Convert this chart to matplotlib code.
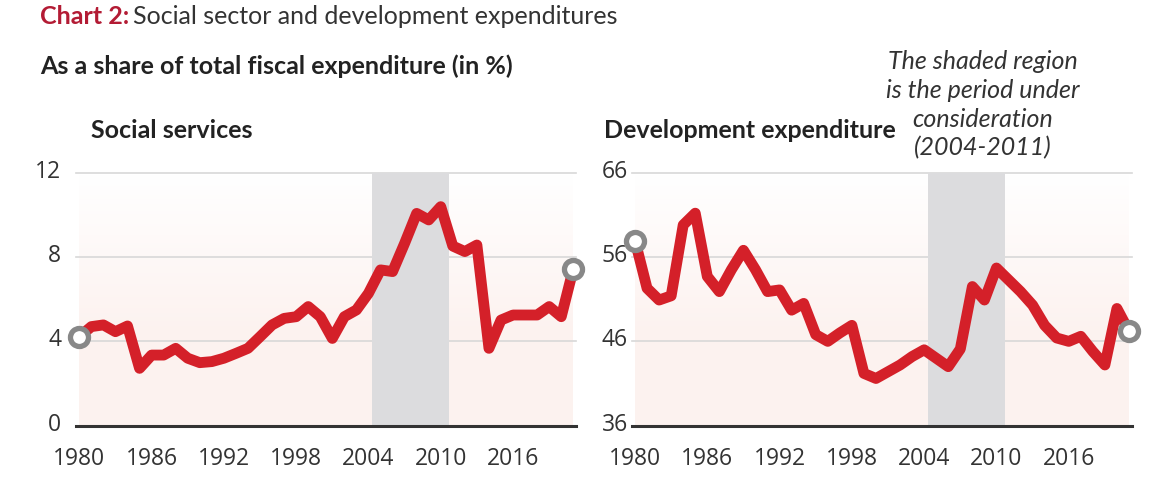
import numpy as np
import matplotlib
matplotlib.use("Agg")
import matplotlib.pyplot as plt
from matplotlib.transforms import ScaledTranslation

# data (share of total fiscal expenditure, %)
years = list(range(1980, 2022))
social = [4.22, 4.70, 4.78, 4.46, 4.73, 2.72, 3.35, 3.35, 3.67, 3.20,
          2.99, 3.04, 3.20, 3.43, 3.67, 4.22, 4.78, 5.09, 5.17, 5.65,
          5.17, 4.14, 5.17, 5.49, 6.28, 7.39, 7.31, 8.65, 10.07, 9.76,
          10.39, 8.52, 8.26, 8.57, 3.67, 5.01, 5.25, 5.25, 5.25, 5.65,
          5.17, 7.43]
development = [57.95, 52.3, 50.9, 51.4, 59.8, 61.2, 53.7, 51.9, 54.5, 56.8,
               54.5, 51.9, 52.1, 49.7, 50.5, 46.8, 46.0, 47.0, 47.9, 42.2,
               41.6, 42.4, 43.2, 44.2, 45.0, 44.0, 43.0, 45.1, 52.5, 50.9,
               54.7, 53.3, 51.9, 50.3, 47.9, 46.4, 46.0, 46.6, 44.8, 43.2,
               49.9, 47.2]
xticks = [1980, 1986, 1992, 1998, 2004, 2010, 2016]
social_yticks = [0, 4, 8, 12]
dev_yticks = [36, 46, 56, 66]
shade_period = (2004.3, 2010.7)

plt.rcParams['font.family'] = ['Open Sans', 'DejaVu Sans']

RED = '#d42029'
GREY_DOT = '#888888'
TXT = '#333333'

W, H = 1150, 484
fig = plt.figure(figsize=(W / 100, H / 100), dpi=100)
fig.patch.set_facecolor('white')


def px(x, y):
    return x / W, 1 - y / H


def panel(left, values, yticks, ypad):
    ax = fig.add_axes([left / W, (H - 425.7) / H, 500 / W, 253 / H])
    ax.set_xlim(1979.75, 2021.25)
    ax.set_ylim(yticks[0], yticks[-1])
    ax.set_facecolor('white')
    for s in ax.spines.values():
        s.set_visible(False)

    # faint pink wash, white at the top and pinker toward the baseline
    g = np.linspace(0, 1, 256).reshape(-1, 1)   # 0 at top row, 1 at bottom
    rgba = np.zeros((256, 1, 4))
    rgba[..., 0] = 0.98
    rgba[..., 1] = 0.87
    rgba[..., 2] = 0.84
    rgba[..., 3] = 0.38 * np.clip(g * 1.6, 0, 1)
    ax.imshow(rgba, extent=[years[0], years[-1], yticks[0], yticks[-1]],
              origin='upper', aspect='auto', zorder=0, interpolation='bilinear')

    for t in yticks[1:]:
        ax.axhline(t, color='#d8d8d8', lw=1.2, zorder=1, clip_on=False)
    ax.axhline(yticks[0], color='#333333', lw=2.2, zorder=5, clip_on=False)

    ax.axvspan(*shade_period, color='#dcdcde', lw=0, zorder=2)

    ax.plot(years, values, color=RED, lw=7.8, zorder=3,
            solid_joinstyle='round', solid_capstyle='round')
    ax.plot([years[0], years[-1]], [values[0], values[-1]], 'o', ms=13,
            mfc='white', mec=GREY_DOT, mew=3.8, zorder=4, clip_on=False)

    ax.set_xticks(xticks)
    ax.set_yticks(yticks)
    ax.tick_params(length=0, labelsize=16.5, labelcolor=TXT)
    ax.tick_params(axis='y', pad=ypad)
    ax.tick_params(axis='x', pad=15)
    for lab in ax.get_yticklabels():
        lab.set_transform(lab.get_transform() +
                          ScaledTranslation(0, 4 / 100, fig.dpi_scale_trans))
    return ax


panel(76.3, social, social_yticks, 11)
panel(632, development, dev_yticks, 3)

# titles
FS = 18
t1 = fig.text(*px(40, 16), 'Chart 2:', color='#b31b34', fontsize=FS,
              fontweight='bold', family='Lato', va='center')
fig.canvas.draw()
bb = t1.get_window_extent()
fig.text(bb.x1 / W + 4 / W, px(0, 16)[1], 'Social sector and development expenditures',
         color=TXT, fontsize=FS, family='Lato', va='center')
fig.text(*px(40, 66), 'As a share of total fiscal expenditure (in %)', color='#222222',
         fontsize=FS, fontweight='bold', family='Lato', va='center')
fig.text(*px(91, 131), 'Social services', color='#222222', fontsize=FS,
         fontweight='bold', family='Lato', va='center')
fig.text(*px(604, 131), 'Development expenditure', color='#222222', fontsize=FS,
         fontweight='bold', family='Lato', va='center')
fig.text(*px(983, 105), 'The shaded region\nis the period under\nconsideration\n(2004-2011)',
         color=TXT, fontsize=FS, style='italic', family='Lato', ha='center',
         va='center', multialignment='center', linespacing=1.3)

fig.savefig('out.png', dpi=100, facecolor='white')
